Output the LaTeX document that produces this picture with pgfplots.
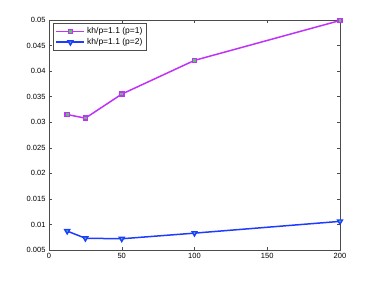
\documentclass[border=0pt]{standalone}
\usepackage{pgfplots}
\pgfplotsset{compat=1.18}
\usepackage{fontspec}
\setmainfont{Liberation Sans}
\definecolor{cmag}{RGB}{190,50,250}
\definecolor{cblue}{RGB}{30,60,255}
\definecolor{cfillg}{RGB}{90,200,90}
\begin{document}
\begin{tikzpicture}
\path[use as bounding box] (-49pt,-31pt) rectangle (325pt,250pt);
\begin{axis}[
  scale only axis, width=291pt, height=230pt,
  xmin=0, xmax=200, ymin=0.005, ymax=0.05,
  xtick={0,50,100,150,200},
  ytick={0.005,0.01,0.015,0.02,0.025,0.03,0.035,0.04,0.045,0.05},
  scaled y ticks=false,
  yticklabel style={/pgf/number format/fixed,/pgf/number format/precision=3},
  /pgf/number format/assume math mode=true,
  tick label style={font=\fontsize{7.5}{8}\selectfont},
  tick align=inside, tick pos=both, major tick length=3.5pt,
  axis line style={black!70, line width=0.6pt},
  every tick/.style={black!70},
  legend style={at={(0.015,0.985)}, anchor=north west, font=\fontsize{8.5}{9}\selectfont,
    draw=black!70, line width=0.6pt, inner sep=2pt, row sep=-1pt, cells={anchor=west}},
  legend cell align=left,
  legend image code/.code={\draw[mark repeat=2,mark phase=2] plot coordinates {(0pt,0pt) (14pt,0pt) (28pt,0pt)};},
]
\addplot[cmag, line width=1.5pt, mark=square*, mark size=2.1pt, mark options={fill=cfillg, draw=cmag, line width=1.5pt}]
  coordinates {(12.5,0.0315) (25,0.0308) (50,0.0355) (100,0.0421) (200,0.0499)};
\addlegendentry{kh/p=1.1 (p=1)}
\addplot[cblue, line width=1.5pt, mark=triangle*, mark size=2.8pt, mark options={rotate=180, fill=cfillg!60!cyan, draw=cblue, line width=1.4pt}]
  coordinates {(12.5,0.0087) (25,0.0073) (50,0.0072) (100,0.0083) (200,0.0106)};
\addlegendentry{kh/p=1.1 (p=2)}
\end{axis}
\end{tikzpicture}
\end{document}
